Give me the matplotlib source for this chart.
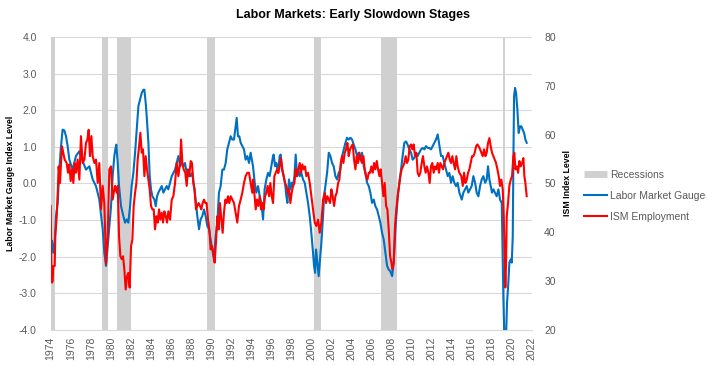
import matplotlib
matplotlib.use("Agg")
import matplotlib.pyplot as plt
from matplotlib.lines import Line2D
from matplotlib.ticker import FormatStrFormatter

plt.rcParams['font.family'] = ['Liberation Sans', 'DejaVu Sans']
plt.rcParams['axes.unicode_minus'] = False

# recession bands (as placed on the chart's year axis)
rec_start = [1973.9, 1979.12, 1980.59, 1989.63, 2000.28, 2007.0, 2019.14]
rec_end = [1974.43, 1979.72, 1982.02, 1990.36, 2001.01, 2008.56, 2019.37]

# Labor Market Gauge (left axis)
gauge_year = [
    1974.13, 1974.26, 1974.40, 1974.53, 1974.70, 1974.86, 1975.03, 1975.19, 1975.36, 1975.53,
    1975.69, 1975.86, 1976.19, 1976.52, 1976.86, 1977.19, 1977.52, 1977.86, 1978.19, 1978.52,
    1978.85, 1979.19, 1979.35, 1979.52, 1979.69, 1980.02, 1980.18, 1980.35, 1980.45, 1980.55,
    1980.69, 1980.82, 1981.02, 1981.25, 1981.42, 1981.58, 1981.75, 1981.92, 1982.08, 1982.25,
    1982.42, 1982.58, 1982.75, 1982.92, 1983.08, 1983.25, 1983.35, 1983.48, 1983.58, 1983.75,
    1983.88, 1984.01, 1984.15, 1984.35, 1984.48, 1984.61, 1984.74, 1984.91, 1985.08, 1985.24,
    1985.41, 1985.58, 1985.74, 1985.91, 1986.08, 1986.24, 1986.41, 1986.57, 1986.74, 1986.91,
    1987.07, 1987.24, 1987.40, 1987.63, 1987.80, 1987.97, 1988.13, 1988.30, 1988.46, 1988.63,
    1988.80, 1988.96, 1989.13, 1989.30, 1989.46, 1989.63, 1989.80, 1989.96, 1990.13, 1990.29,
    1990.46, 1990.63, 1990.79, 1990.96, 1991.13, 1991.29, 1991.46, 1991.62, 1991.79, 1991.96,
    1992.12, 1992.29, 1992.46, 1992.56, 1992.69, 1992.82, 1992.96, 1993.12, 1993.29, 1993.45,
    1993.62, 1993.79, 1993.95, 1994.19, 1994.36, 1994.52, 1994.69, 1994.86, 1995.02, 1995.19,
    1995.35, 1995.52, 1995.69, 1995.85, 1996.02, 1996.19, 1996.25, 1996.39, 1996.52, 1996.69,
    1996.85, 1996.95, 1997.08, 1997.25, 1997.38, 1997.52, 1997.62, 1997.78, 1997.92, 1998.05,
    1998.18, 1998.32, 1998.45, 1998.58, 1998.71, 1998.85, 1999.01, 1999.18, 1999.35, 1999.51,
    1999.68, 1999.85, 2000.01, 2000.18, 2000.28, 2000.38, 2000.48, 2000.61, 2000.74, 2000.88,
    2001.01, 2001.18, 2001.28, 2001.41, 2001.58, 2001.75, 2001.91, 2002.08, 2002.24, 2002.41,
    2002.58, 2002.74, 2002.91, 2003.08, 2003.24, 2003.41, 2003.57, 2003.74, 2003.91, 2004.07,
    2004.24, 2004.41, 2004.57, 2004.74, 2004.91, 2005.07, 2005.24, 2005.40, 2005.57, 2005.74,
    2005.90, 2006.07, 2006.24, 2006.40, 2006.57, 2006.74, 2006.90, 2007.07, 2007.23, 2007.40,
    2007.57, 2007.73, 2007.90, 2008.07, 2008.23, 2008.36, 2008.49, 2008.63, 2008.79, 2008.96,
    2009.12, 2009.29, 2009.46, 2009.62, 2009.79, 2009.96, 2010.12, 2010.29, 2010.45, 2010.62,
    2010.79, 2010.95, 2011.12, 2011.29, 2011.45, 2011.62, 2011.79, 2011.95, 2012.12, 2012.28,
    2012.45, 2012.62, 2012.78, 2012.95, 2013.12, 2013.28, 2013.45, 2013.62, 2013.78, 2013.95,
    2014.11, 2014.28, 2014.45, 2014.61, 2014.78, 2015.02, 2015.18, 2015.35, 2015.52, 2015.68,
    2015.85, 2016.01, 2016.18, 2016.35, 2016.51, 2016.68, 2016.85, 2017.01, 2017.18, 2017.35,
    2017.51, 2017.64, 2017.78, 2017.91, 2018.04, 2018.18, 2018.34, 2018.51, 2018.68, 2018.84,
    2019.01, 2019.11, 2019.17, 2019.27, 2019.44, 2019.54, 2019.67, 2019.77, 2019.91, 2020.01,
    2020.11, 2020.17, 2020.24, 2020.34, 2020.44, 2020.57, 2020.70, 2020.84, 2020.97, 2021.10,
    2021.24, 2021.37, 2021.50,
]
gauge_val = [
    -1.57, -1.89, -1.60, -0.89, -0.53, 0.38, 1.02, 1.47, 1.45, 1.29,
    1.02, 0.65, 0.38, 0.75, 0.88, 0.61, 0.38, 0.47, 0.11, -0.07,
    -0.44, -1.25, -1.89, -2.25, -1.71, -0.62, 0.20, 0.75, 0.93, 1.06,
    0.56, -0.07, -0.62, -0.89, -1.07, -0.98, -1.07, -0.62, -0.07, 0.29,
    0.84, 1.47, 2.11, 2.29, 2.47, 2.56, 2.56, 2.20, 1.84, 1.11,
    0.20, -0.16, -0.35, -0.44, -0.62, -0.35, -0.25, -0.16, -0.07, -0.25,
    -0.16, -0.07, -0.16, 0.02, 0.20, 0.29, 0.38, 0.56, 0.75, 0.47,
    0.56, 0.47, 0.56, 0.20, 0.29, 0.20, 0.29, -0.07, -0.44, -0.89,
    -1.25, -0.98, -0.89, -0.71, -0.89, -1.16, -1.25, -1.53, -1.80, -2.07,
    -1.44, -1.07, -0.25, -0.07, 0.38, 0.38, 0.56, 0.93, 1.11, 1.29,
    1.20, 1.20, 1.56, 1.79, 1.29, 1.29, 1.11, 1.02, 0.93, 0.65,
    0.75, 0.56, 0.84, 0.47, 0.02, -0.25, -0.07, -0.35, -0.53, -0.98,
    -0.16, 0.11, 0.29, 0.20, 0.47, 0.75, 0.79, 0.47, 0.56, 0.29,
    0.75, 0.79, 0.38, 0.20, 0.02, -0.35, -0.53, 0.11, -0.16, 0.02,
    -0.07, 0.20, 0.79, 0.20, 0.38, 0.20, 0.29, 0.11, 0.02, -0.25,
    -0.53, -0.89, -1.35, -1.89, -2.25, -2.44, -1.80, -2.16, -2.53, -2.07,
    -1.62, -0.89, -0.35, -0.07, 0.29, 0.84, 0.75, 0.56, 0.47, 0.20,
    0.11, 0.29, 0.38, 0.75, 0.93, 1.11, 1.25, 1.20, 1.25, 1.20,
    1.06, 0.93, 0.75, 0.84, 0.65, 0.84, 0.47, 0.29, 0.02, -0.07,
    -0.25, -0.53, -0.44, -0.62, -0.71, -0.89, -1.07, -1.35, -1.53, -1.89,
    -2.25, -2.35, -2.40, -2.53, -2.16, -1.44, -0.89, -0.35, 0.02, 0.38,
    0.75, 1.11, 1.15, 1.06, 0.93, 0.84, 0.65, 0.70, 0.84, 0.75,
    0.84, 0.93, 0.97, 0.93, 1.02, 0.97, 0.97, 0.93, 1.02, 1.11,
    1.20, 1.34, 1.06, 0.75, 0.75, 0.56, 0.38, 0.20, 0.29, 0.02,
    0.20, 0.02, -0.07, 0.02, -0.25, -0.44, -0.25, -0.16, -0.07, -0.25,
    -0.16, -0.07, 0.20, 0.02, -0.25, -0.35, -0.07, 0.11, 0.20, 0.02,
    0.11, 0.47, 0.11, -0.07, -0.25, -0.16, -0.25, -0.35, -0.16, -0.44,
    -0.53, -2.07, -3.07, -4.20, -4.20, -3.25, -2.71, -2.16, -2.07, -2.16,
    -1.44, 0.56, 2.38, 2.61, 2.47, 2.02, 1.38, 1.56, 1.56, 1.47,
    1.38, 1.20, 1.11,
]

# ISM Employment (right axis)
ism_year = [
    1974.00, 1974.06, 1974.13, 1974.20, 1974.26, 1974.40, 1974.46, 1974.60, 1974.73, 1974.79,
    1974.93, 1975.03, 1975.13, 1975.26, 1975.39, 1975.59, 1975.73, 1975.86, 1975.99, 1976.13,
    1976.26, 1976.39, 1976.52, 1976.69, 1976.86, 1977.02, 1977.19, 1977.36, 1977.52, 1977.66,
    1977.79, 1977.92, 1978.06, 1978.19, 1978.36, 1978.52, 1978.69, 1978.85, 1979.02, 1979.19,
    1979.35, 1979.52, 1979.69, 1979.85, 1980.02, 1980.18, 1980.35, 1980.42, 1980.59, 1980.69,
    1980.82, 1980.95, 1981.09, 1981.22, 1981.35, 1981.48, 1981.62, 1981.75, 1981.88, 1982.02,
    1982.15, 1982.28, 1982.42, 1982.55, 1982.68, 1982.82, 1982.95, 1983.08, 1983.21, 1983.35,
    1983.48, 1983.61, 1983.75, 1983.88, 1984.01, 1984.15, 1984.28, 1984.41, 1984.55, 1984.68,
    1984.81, 1984.94, 1985.08, 1985.21, 1985.34, 1985.48, 1985.61, 1985.74, 1985.91, 1986.08,
    1986.24, 1986.41, 1986.57, 1986.74, 1986.91, 1987.01, 1987.14, 1987.27, 1987.43, 1987.57,
    1987.70, 1987.83, 1987.97, 1988.10, 1988.23, 1988.36, 1988.50, 1988.63, 1988.76, 1988.90,
    1989.03, 1989.16, 1989.30, 1989.43, 1989.56, 1989.70, 1989.83, 1989.96, 1990.09, 1990.23,
    1990.36, 1990.49, 1990.63, 1990.76, 1990.89, 1991.03, 1991.16, 1991.29, 1991.43, 1991.56,
    1991.69, 1991.82, 1991.96, 1992.12, 1992.29, 1992.46, 1992.62, 1992.79, 1992.96, 1993.12,
    1993.29, 1993.45, 1993.62, 1993.79, 1993.95, 1994.12, 1994.19, 1994.32, 1994.46, 1994.59,
    1994.72, 1994.86, 1994.99, 1995.12, 1995.25, 1995.39, 1995.52, 1995.65, 1995.79, 1995.92,
    1996.05, 1996.19, 1996.32, 1996.45, 1996.59, 1996.72, 1996.85, 1996.98, 1997.12, 1997.25,
    1997.38, 1997.52, 1997.65, 1997.78, 1997.92, 1998.05, 1998.18, 1998.32, 1998.45, 1998.58,
    1998.71, 1998.85, 1998.98, 1999.11, 1999.25, 1999.38, 1999.51, 1999.68, 1999.85, 2000.01,
    2000.18, 2000.35, 2000.51, 2000.68, 2000.84, 2001.01, 2001.18, 2001.35, 2001.48, 2001.61,
    2001.75, 2001.88, 2002.01, 2002.14, 2002.28, 2002.41, 2002.54, 2002.68, 2002.81, 2002.94,
    2003.08, 2003.21, 2003.34, 2003.48, 2003.61, 2003.74, 2003.87, 2004.01, 2004.14, 2004.27,
    2004.41, 2004.54, 2004.67, 2004.81, 2004.94, 2005.07, 2005.21, 2005.34, 2005.47, 2005.60,
    2005.74, 2005.87, 2006.00, 2006.14, 2006.27, 2006.40, 2006.54, 2006.67, 2006.80, 2006.93,
    2007.07, 2007.20, 2007.33, 2007.47, 2007.60, 2007.73, 2007.87, 2008.00, 2008.09, 2008.23,
    2008.36, 2008.49, 2008.63, 2008.76, 2008.89, 2009.02, 2009.16, 2009.29, 2009.42, 2009.56,
    2009.69, 2009.82, 2009.96, 2010.09, 2010.22, 2010.36, 2010.49, 2010.62, 2010.75, 2010.89,
    2011.02, 2011.15, 2011.29, 2011.42, 2011.55, 2011.69, 2011.82, 2011.95, 2012.08, 2012.22,
    2012.35, 2012.48, 2012.62, 2012.75, 2012.88, 2013.02, 2013.15, 2013.28, 2013.42, 2013.55,
    2013.68, 2013.82, 2013.95, 2014.08, 2014.21, 2014.35, 2014.48, 2014.61, 2014.78, 2014.98,
    2015.12, 2015.25, 2015.38, 2015.52, 2015.65, 2015.78, 2015.91, 2016.05, 2016.18, 2016.31,
    2016.45, 2016.58, 2016.71, 2016.85, 2016.98, 2017.11, 2017.25, 2017.38, 2017.51, 2017.64,
    2017.78, 2017.91, 2018.04, 2018.18, 2018.31, 2018.44, 2018.58, 2018.71, 2018.84, 2018.97,
    2019.11, 2019.21, 2019.31, 2019.37, 2019.44, 2019.51, 2019.64, 2019.77, 2019.91, 2020.04,
    2020.17, 2020.27, 2020.37, 2020.51, 2020.64, 2020.77, 2020.90, 2021.04, 2021.17, 2021.27,
    2021.37, 2021.50,
]
ism_val = [
    45.4, 33.8, 29.7, 30.0, 33.1, 33.1, 39.2, 43.3, 49.5, 53.5,
    50.1, 54.2, 57.6, 56.3, 54.9, 54.2, 52.2, 53.9, 50.5, 52.9,
    50.1, 54.2, 52.2, 54.9, 50.8, 59.7, 54.2, 54.9, 58.3, 59.0,
    61.0, 55.6, 59.7, 55.6, 54.2, 54.9, 50.1, 54.2, 44.7, 49.5,
    46.0, 33.5, 39.2, 52.9, 53.5, 46.7, 48.8, 49.5, 48.1, 49.5,
    39.2, 35.1, 34.5, 35.1, 32.4, 28.3, 31.0, 31.7, 28.7, 37.2,
    38.5, 45.4, 48.1, 50.1, 54.9, 57.6, 60.4, 56.3, 57.0, 51.5,
    55.6, 52.9, 50.8, 48.8, 45.4, 44.7, 44.7, 40.6, 43.3, 42.0,
    44.7, 42.6, 44.0, 42.0, 44.3, 43.3, 42.0, 44.3, 42.6, 46.7,
    47.4, 50.1, 54.2, 51.5, 54.2, 59.0, 54.2, 52.9, 52.2, 49.5,
    52.9, 51.5, 54.6, 54.2, 50.1, 48.8, 44.7, 45.4, 46.0, 45.4,
    44.7, 46.0, 46.7, 46.0, 46.0, 42.6, 40.6, 36.5, 37.2, 35.8,
    33.8, 37.9, 43.3, 40.6, 46.0, 42.6, 39.9, 44.0, 46.7, 46.0,
    47.4, 46.0, 47.4, 46.7, 46.0, 44.0, 42.0, 45.4, 46.7, 48.1,
    50.1, 51.5, 52.2, 52.2, 50.1, 48.1, 50.8, 48.1, 44.7, 46.7,
    45.4, 47.4, 44.7, 46.0, 44.7, 47.4, 48.1, 49.5, 47.4, 50.1,
    47.4, 46.0, 51.5, 52.2, 52.9, 52.2, 53.5, 55.2, 52.9, 51.5,
    50.1, 49.5, 48.1, 48.8, 46.0, 48.1, 49.5, 50.1, 52.9, 51.5,
    52.9, 54.2, 52.2, 53.9, 52.9, 53.5, 51.5, 52.2, 50.1, 47.4,
    44.7, 42.0, 41.3, 42.6, 39.9, 42.0, 46.7, 48.1, 46.0, 47.4,
    46.7, 46.0, 48.8, 47.4, 45.4, 47.4, 48.1, 50.1, 50.8, 54.2,
    55.6, 54.2, 56.3, 57.0, 58.3, 55.6, 57.0, 57.6, 58.0, 54.9,
    52.9, 55.6, 54.2, 56.3, 54.9, 54.2, 55.6, 52.9, 51.5, 50.8,
    52.2, 52.2, 53.5, 52.2, 54.2, 52.9, 54.6, 52.9, 51.5, 52.9,
    50.1, 47.4, 50.1, 45.4, 44.7, 40.6, 35.1, 33.8, 32.4, 33.8,
    41.3, 44.7, 47.4, 49.5, 51.5, 52.9, 53.5, 54.2, 55.6, 54.2,
    54.9, 57.6, 58.0, 57.0, 58.0, 55.6, 56.3, 52.2, 51.5, 52.2,
    54.2, 55.6, 53.5, 52.2, 53.5, 52.2, 50.1, 53.5, 54.2, 52.2,
    53.5, 52.9, 54.2, 52.2, 54.2, 53.5, 52.9, 54.2, 54.9, 55.6,
    56.3, 54.9, 54.2, 55.6, 54.2, 52.9, 55.6, 53.5, 52.2, 51.5,
    49.5, 52.2, 50.1, 50.8, 52.2, 52.9, 54.2, 55.6, 55.6, 56.3,
    57.6, 58.0, 57.6, 57.0, 56.3, 55.6, 57.0, 55.6, 56.3, 58.3,
    59.3, 57.6, 56.3, 55.6, 54.9, 54.2, 52.9, 51.5, 49.5, 50.8,
    48.8, 43.3, 34.5, 28.7, 33.8, 43.3, 46.0, 49.5, 50.8, 51.5,
    55.6, 56.3, 52.9, 53.5, 52.2, 54.6, 53.5, 54.2, 55.2, 51.5,
    50.1, 47.4,
]

years = list(range(1974, 2023, 2))
left_ticks = [-4, -3, -2, -1, 0, 1, 2, 3, 4]
right_ticks = [20, 30, 40, 50, 60, 70, 80]

tick_color = '#595959'
grid_color = '#d9d9d9'
blue = '#0070c0'
red = '#ff0000'
rec_color = '#d0d0d0'

fig = plt.figure(figsize=(7.07, 3.65), dpi=100)
ax = fig.add_axes([50.7 / 707, 1 - 330 / 365, 481 / 707, 293 / 365])

for s, e in zip(rec_start, rec_end):
    ax.axvspan(s, e, color=rec_color, lw=0, zorder=1)

ax.plot(gauge_year, gauge_val, color=blue, lw=1.5, zorder=3)
ax.set_xlim(1974, 2022)
ax.set_ylim(-4, 4)
ax.set_yticks(left_ticks)
ax.yaxis.set_major_formatter(FormatStrFormatter('%.1f'))
ax.set_xticks(years)
ax.set_xticklabels([str(y) for y in years], rotation=90)
ax.grid(axis='y', color=grid_color, lw=0.8)
ax.set_axisbelow(True)
for sp in ['top', 'left', 'right']:
    ax.spines[sp].set_visible(False)
ax.spines['bottom'].set_color(grid_color)
ax.tick_params(axis='y', length=0, pad=10, labelsize=7.5, labelcolor=tick_color)
ax.tick_params(axis='x', length=0, pad=5, labelsize=7.5, labelcolor=tick_color)
ax.set_ylabel('Labor Market Gauge Index Level', fontsize=6.3, fontweight='bold')
ax.yaxis.set_label_coords((14.5 - 50.7) / 481, 0.5)

ax2 = ax.twinx()
ax2.plot(ism_year, ism_val, color=red, lw=1.5)
ax2.set_ylim(20, 80)
ax2.set_yticks(right_ticks)
for sp in ['top', 'left', 'right', 'bottom']:
    ax2.spines[sp].set_visible(False)
ax2.tick_params(axis='y', length=0, pad=9, labelsize=7.5, labelcolor=tick_color)
ax2.set_ylabel('ISM Index Level', fontsize=6.3, fontweight='bold')
ax2.yaxis.set_label_coords((563 - 50.7) / 481, 0.5)

fig.suptitle('Labor Markets: Early Slowdown Stages', fontsize=9, fontweight='bold',
             x=0.5, y=1 - 9 / 365, va='top')

handles = [
    Line2D([0], [0], color=rec_color, lw=5, solid_capstyle='butt'),
    Line2D([0], [0], color=blue, lw=1.5),
    Line2D([0], [0], color=red, lw=1.5),
]
labels = ['Recessions', 'Labor Market Gauge', 'ISM Employment']
fig.legend(handles, labels, loc='upper left', bbox_to_anchor=(584 / 707, 1 - 170 / 365),
           frameon=False, fontsize=7.5, labelcolor=tick_color, handlelength=2.2,
           handletextpad=0.3, labelspacing=1.05, borderaxespad=0, borderpad=0)

fig.savefig('out.png', dpi=100)
